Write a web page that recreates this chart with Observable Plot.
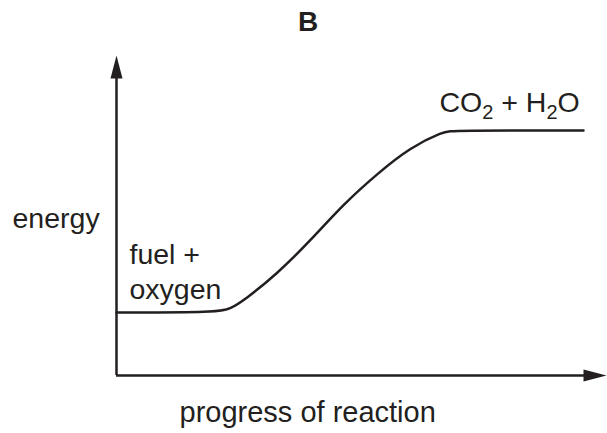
<!DOCTYPE html>
<html>
<head>
<meta charset="utf-8">
<script src="https://cdn.jsdelivr.net/npm/d3@7"></script>
<script src="https://cdn.jsdelivr.net/npm/@observablehq/plot@0.6"></script>
<style>
  html, body { margin: 0; padding: 0; background: #fff; }
  svg { display: block; }
</style>
</head>
<body>
<div id="chart"></div>
<script>
// Energy profile (arbitrary units): progress of reaction vs energy
const progress = [0, 102, 114, 127.3, 160.7, 194, 227.3, 260.7, 294, 327.3, 336, 467];
const energy   = [63, 63, 67, 75, 101.7, 135, 171.7, 201.7, 228.3, 244, 245, 245];

const title = "B";
const xLabel = "progress of reaction";
const yLabel = "energy";
const startLabel = "fuel +\noxygen";
const endLabel = "CO₂ + H₂O";

const ink = "#231f20";
const font = "Liberation Sans, Arial, Helvetica, sans-serif";

const curve = progress.map((x, i) => ({x, y: energy[i]}));

const arrowHead = {
  draw(ctx) {
    ctx.moveTo(0, 0);
    ctx.lineTo(-6, 23);
    ctx.lineTo(6, 23);
    ctx.closePath();
  }
};

const xMax = 490, yMax = 320;
const fs = 28.5;

const chart = Plot.plot({
  width: 607,
  height: 433,
  marginLeft: 116,
  marginRight: 1,
  marginTop: 55,
  marginBottom: 58,
  x: {domain: [0, xMax], axis: null},
  y: {domain: [0, yMax], axis: null},
  style: {fontFamily: font, color: ink, background: "#fff"},
  marks: [
    Plot.ruleX([0], {y1: 0, y2: yMax - 10, stroke: ink, strokeWidth: 2.5}),
    Plot.ruleY([0], {x1: 0, x2: xMax - 10, stroke: ink, strokeWidth: 2.5}),
    Plot.dot([{x: 0, y: yMax}], {x: "x", y: "y", symbol: arrowHead, fill: ink, stroke: "none", r: 6}),
    Plot.dot([{x: xMax, y: 0}], {x: "x", y: "y", symbol: arrowHead, fill: ink, stroke: "none", r: 6, rotate: 90}),
    Plot.line(curve, {x: "x", y: "y", curve: "basis", stroke: ink, strokeWidth: 2.5}),
    Plot.text([yLabel], {x: -104, y: 156.8, text: d => d, textAnchor: "start", fontSize: fs, fill: ink}),
    Plot.text([xLabel], {x: 63, y: -37.6, text: d => d, textAnchor: "start", fontSize: 29, fill: ink}),
    Plot.text([startLabel], {x: 13, y: 105.6, text: d => d, textAnchor: "start", fontSize: fs, lineHeight: 1.23, fill: ink}),
    Plot.text([endLabel], {x: 323, y: 273.1, text: d => d, textAnchor: "start", fontSize: fs, fill: ink}),
    Plot.text([title], {x: 191.5, y: 353.3, text: d => d, fontSize: 28, fontWeight: "bold", fill: ink})
  ]
});

// Render subscripts as real lowered digits
d3.select(chart).selectAll("text").each(function() {
  const t = d3.select(this);
  const s = t.text();
  if (s !== endLabel) return;
  t.text(null);
  const parts = s.split(/(₂)/).filter(p => p);
  let lowered = false;
  for (const p of parts) {
    if (p === "₂") {
      t.append("tspan").attr("font-size", "20px").attr("dy", "7").text("2");
      lowered = true;
    } else {
      const ts = t.append("tspan").text(p);
      if (lowered) { ts.attr("dy", "-7"); lowered = false; }
    }
  }
});
document.getElementById("chart").append(chart);
</script>
</body>
</html>
